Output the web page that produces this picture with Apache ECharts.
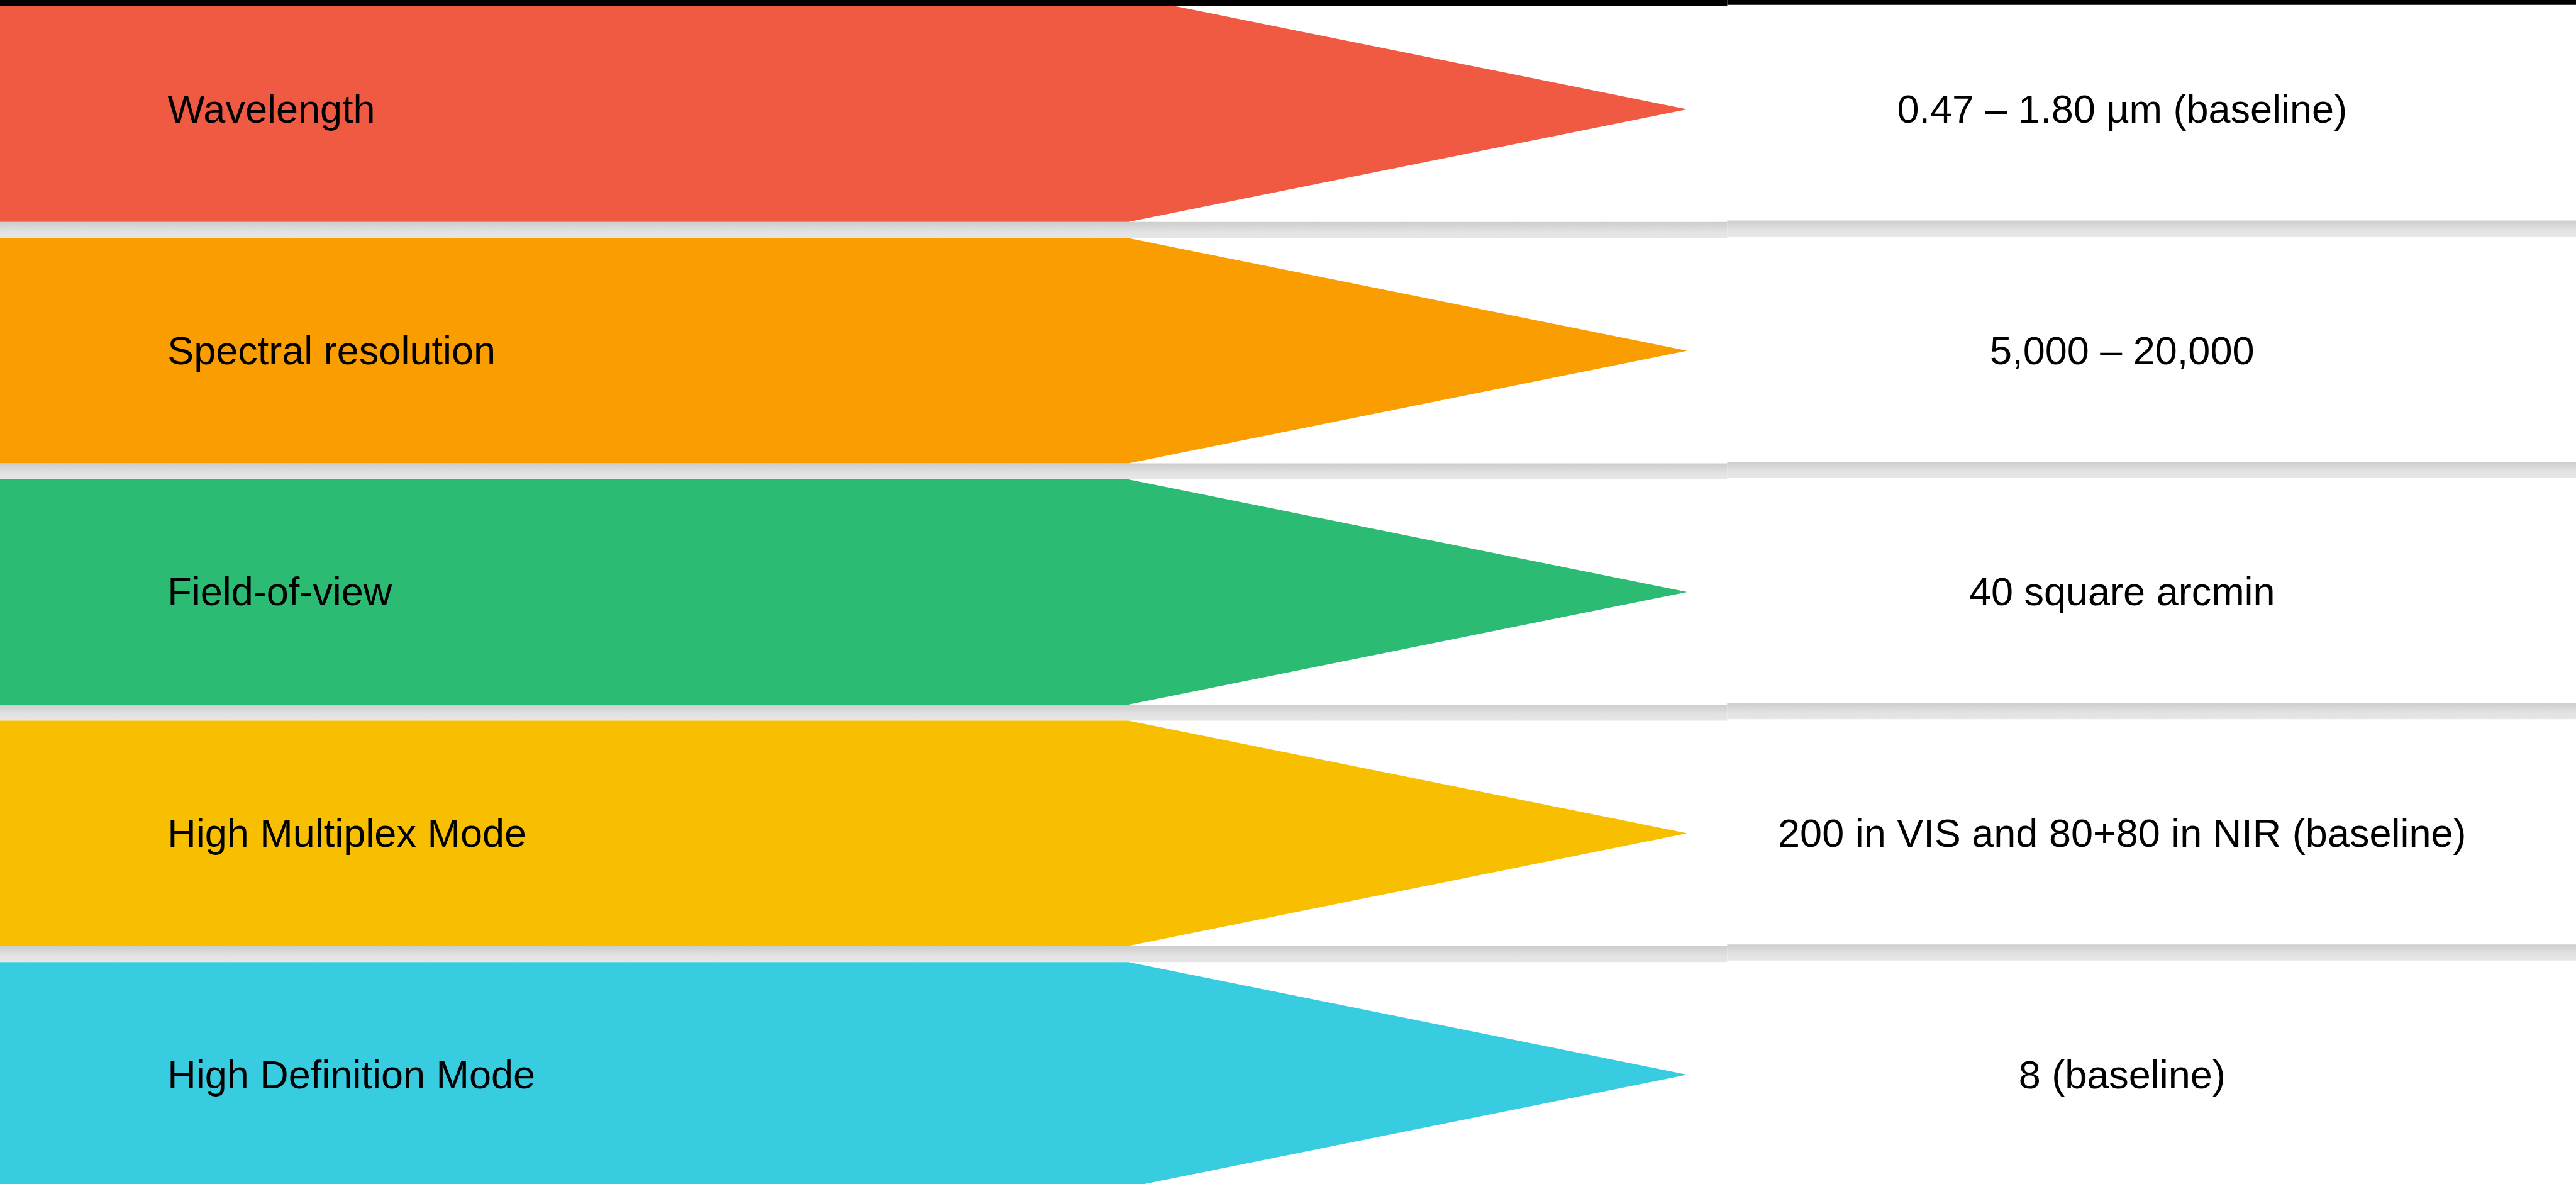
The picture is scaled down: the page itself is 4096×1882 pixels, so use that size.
<!DOCTYPE html>
<html>
<head>
<meta charset="utf-8">
<title>Instrument parameters</title>
<script src="https://cdn.jsdelivr.net/npm/echarts@6/dist/echarts.min.js"></script>
<style>
    html, body {margin: 0; padding: 0; background: #fff;}
    #main {width: 4096px; height: 1882px;}
</style>
</head>
<body>
<div id="main"></div>
<script>
// rows of the table, top to bottom
var paramNames = ['Wavelength', 'Spectral resolution', 'Field-of-view', 'High Multiplex Mode', 'High Definition Mode'];
var paramValues = ['0.47 – 1.80 µm (baseline)', '5,000 – 20,000', '40 square arcmin', '200 in VIS and 80+80 in NIR (baseline)', '8 (baseline)'];
var rowColors = ['#F05A42', '#F99D00', '#2BBB73', '#F8BF00', '#38CCE0'];

// shape of the arrows, in % of the width (x axis runs 0..100)
var bodyEnd = 43.8;
var tipX = 65.5;
var panelSplit = 67.05;
var nameX = 6.5;
var valueX = 82.38;
var gapH = 25.6;

var myChart = echarts.init(document.getElementById('main'));

function renderRow(params, api) {
    var row = api.value(1);
    var top = api.coord([0, row])[1];
    var bottom = api.coord([0, row + 1])[1];
    var h = bottom - top - gapH;
    var mid = top + h / 2;
    var x0 = api.coord([0, row])[0];
    var xb = api.coord([bodyEnd, row])[0];
    var xt = api.coord([tipX, row])[0];
    var xs = api.coord([panelSplit, row])[0];
    var xe = api.coord([100, row])[0];
    var xn = api.coord([nameX, row])[0];
    var xv = api.coord([valueX, row])[0];
    var gapFill = new echarts.graphic.LinearGradient(0, 0, 0, 1, [
        {offset: 0, color: '#cdcdcd'},
        {offset: 0.6, color: '#e2e2e2'},
        {offset: 1, color: '#e7e7e7'}
    ]);
    return {
        type: 'group',
        children: [
            {type: 'rect', shape: {x: x0, y: top + h, width: xs - x0, height: gapH}, style: {fill: gapFill}},
            {type: 'rect', shape: {x: xs, y: top + h - 2.4, width: xe - xs, height: gapH}, style: {fill: gapFill}},
            {
                type: 'polygon',
                shape: {points: [[x0, top], [xb, top], [xt, mid], [xb, top + h], [x0, top + h]]},
                style: {fill: rowColors[row]}
            },
            {
                type: 'text',
                style: {
                    text: paramNames[row], x: xn, y: mid + 4,
                    fill: '#000', fontSize: 63, fontFamily: 'Liberation Sans, Arial, sans-serif',
                    align: 'left', verticalAlign: 'middle'
                }
            },
            {
                type: 'text',
                style: {
                    text: paramValues[row], x: xv, y: mid + 4,
                    fill: '#000', fontSize: 63, fontFamily: 'Liberation Sans, Arial, sans-serif',
                    align: 'center', verticalAlign: 'middle'
                }
            }
        ]
    };
}

var option = {
    animation: false,
    backgroundColor: '#fff',
    grid: {left: 0, right: 0, top: 0, bottom: 0, containLabel: false},
    xAxis: {type: 'value', min: 0, max: 100, show: false},
    // row i occupies [i, i+1); the window shows a little under five rows
    yAxis: {type: 'value', inverse: true, min: 0.0136, max: 4.9197, show: false},
    series: [{
        type: 'custom',
        renderItem: renderRow,
        encode: {x: 0, y: 1},
        clip: false,
        data: paramNames.map(function (n, i) {
            return [100, i];
        })
    }],
    graphic: [
        // dark frame edge along the top of the screenshot
        {type: 'rect', left: 0, top: 0, shape: {width: 2746.4, height: 9.2}, style: {fill: '#000'}, z: 100},
        {type: 'rect', left: 2746.4, top: 0, shape: {width: 1349.6, height: 7.7}, style: {fill: '#000'}, z: 100}
    ]
};

myChart.setOption(option);
</script>
</body>
</html>
